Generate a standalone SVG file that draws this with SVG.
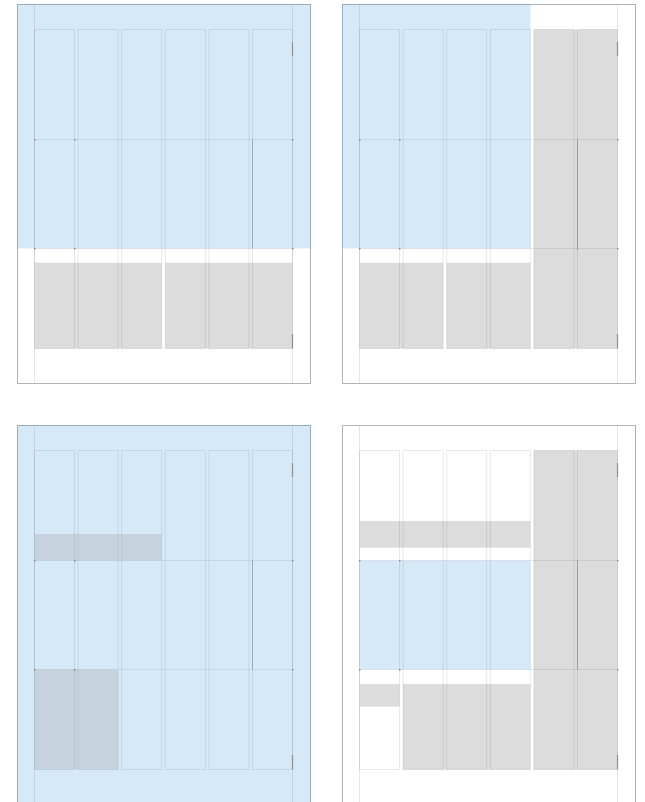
<svg xmlns="http://www.w3.org/2000/svg" width="645" height="802" viewBox="0 0 645 802">
<style>
.frame{fill:none;stroke:#b3b3b3;stroke-width:1}
.margin{stroke:#e6e6e6;stroke-width:1}
.blk{fill:#dcdcdc}
.shade{fill:rgb(162,160,160);fill-opacity:0.3}
.col{fill:none;stroke:rgba(0,0,0,0.09);stroke-width:1}
.row{stroke:rgba(0,0,0,0.08);stroke-width:1}
.blue{fill:rgb(50,145,220);fill-opacity:0.2}
.tick{stroke:#8f8f8f;stroke-width:1.2}
.vdark{stroke:rgba(0,0,0,0.22);stroke-width:1}
.dot{fill:#8a8a8a}
</style>
<defs>
<g id="cols">
<rect class="col" x="34.5" y="29.5" width="40" height="319"/>
<rect class="col" x="78.1" y="29.5" width="40" height="319"/>
<rect class="col" x="121.7" y="29.5" width="40" height="319"/>
<rect class="col" x="165.3" y="29.5" width="40" height="319"/>
<rect class="col" x="208.9" y="29.5" width="40" height="319"/>
<rect class="col" x="252.5" y="29.5" width="40" height="319"/>
</g>
<g id="rows">
<line class="row" x1="34.5" y1="139.5" x2="292.5" y2="139.5"/>
<line class="row" x1="34.5" y1="248.5" x2="292.5" y2="248.5"/>
</g>
<g id="marks">
<line class="tick" x1="292.5" y1="42" x2="292.5" y2="56"/>
<line class="tick" x1="292.5" y1="334" x2="292.5" y2="348.5"/>
<line class="vdark" x1="252.5" y1="139.5" x2="252.5" y2="248.5"/>
<rect class="dot" x="34" y="139" width="1.5" height="1.5"/>
<rect class="dot" x="74" y="139" width="1.5" height="1.5"/>
<rect class="dot" x="34" y="248" width="1.5" height="1.5"/>
<rect class="dot" x="74" y="248" width="1.5" height="1.5"/>
<rect class="dot" x="292" y="139" width="1.5" height="1.5"/>
<rect class="dot" x="292" y="248" width="1.5" height="1.5"/>
</g>
</defs>
<rect width="645" height="802" fill="#ffffff"/>

<g id="panel-1">
<rect class="frame" x="17.5" y="4.5" width="293" height="379"/>
<line class="margin" x1="34.5" y1="5" x2="34.5" y2="383"/>
<line class="margin" x1="292.5" y1="5" x2="292.5" y2="383"/>
<rect class="blk" x="34.5" y="262.7" width="127.2" height="85.8"/>
<rect class="blk" x="165.3" y="262.7" width="127.2" height="85.8"/>
<use href="#cols"/>
<use href="#rows"/>
<rect class="blue" x="17" y="4" width="294" height="244.5"/>
<use href="#marks"/>
</g>

<g id="panel-2" transform="translate(325,0)">
<rect class="frame" x="17.5" y="4.5" width="293" height="379"/>
<line class="margin" x1="34.5" y1="5" x2="34.5" y2="383"/>
<line class="margin" x1="292.5" y1="5" x2="292.5" y2="383"/>
<rect class="blk" x="208.9" y="29.5" width="83.6" height="319"/>
<rect class="blk" x="34.5" y="262.7" width="83.6" height="85.8"/>
<rect class="blk" x="121.7" y="262.7" width="83.6" height="85.8"/>
<use href="#cols"/>
<use href="#rows"/>
<rect class="blue" x="17" y="4" width="188.5" height="244.5"/>
<use href="#marks"/>
<line class="vdark" x1="252.5" y1="248.5" x2="252.5" y2="250"/>
</g>

<g id="panel-3" transform="translate(0,421)">
<path class="frame" d="M17.5 382V4.5H310.5V382"/>
<line class="margin" x1="34.5" y1="5" x2="34.5" y2="382"/>
<line class="margin" x1="292.5" y1="5" x2="292.5" y2="382"/>
<use href="#cols"/>
<use href="#rows"/>
<rect class="blue" x="17" y="4" width="294" height="378"/>
<rect class="shade" x="34.5" y="113" width="127.2" height="26.5"/>
<rect class="shade" x="34.5" y="248.5" width="83.6" height="100"/>
<use href="#marks"/>
</g>

<g id="panel-4" transform="translate(325,421)">
<path class="frame" d="M17.5 382V4.5H310.5V382"/>
<line class="margin" x1="34.5" y1="5" x2="34.5" y2="382"/>
<line class="margin" x1="292.5" y1="5" x2="292.5" y2="382"/>
<rect class="blk" x="208.9" y="29.5" width="83.6" height="319"/>
<rect class="blk" x="34.5" y="100" width="170.8" height="26.7"/>
<rect class="blk" x="34.5" y="263" width="40" height="22.7"/>
<rect class="blk" x="78.1" y="263" width="127.2" height="85.5"/>
<use href="#cols"/>
<use href="#rows"/>
<rect class="blue" x="34.5" y="139.5" width="170.8" height="109"/>
<use href="#marks"/>
</g>

<g id="connectors"/>
</svg>
